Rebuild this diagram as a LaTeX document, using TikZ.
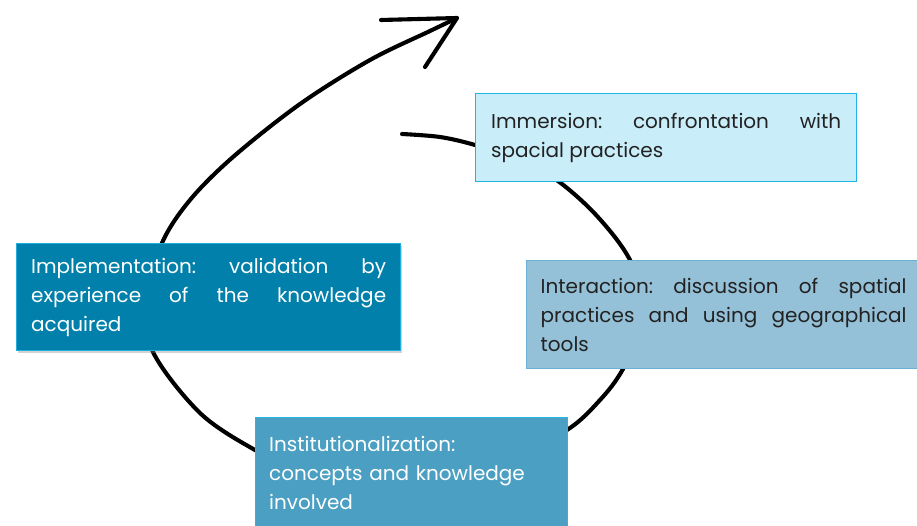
\documentclass[tikz,border=0pt]{standalone}
\usepackage{fontspec}
\setmainfont{Poppins}
\usetikzlibrary{shadows}
\definecolor{immfill}{HTML}{C9EDF9}
\definecolor{immdraw}{HTML}{1DB5E5}
\definecolor{impfill}{HTML}{0080AA}
\definecolor{impdraw}{HTML}{22AEDC}
\definecolor{intfill}{HTML}{94C1D8}
\definecolor{intdraw}{HTML}{6BB2D2}
\definecolor{insfill}{HTML}{4B9FC2}
\definecolor{insdraw}{HTML}{2BB5E5}
\definecolor{darktext}{HTML}{222222}
\begin{document}
\begin{tikzpicture}[x=1pt,y=-1pt,
  box/.style={anchor=north west, line width=1.3pt, inner ysep=0pt,
    font=\fontsize{20}{29}\selectfont\frenchspacing, align=justify},
  spiral/.style={line width=4.1pt, line cap=round, line join=round, black}]
\useasboundingbox (0,0) rectangle (917,525);
\clip (0,0) rectangle (917,525);
% spiral connector (drawn first, boxes cover it)
\coordinate (start) at (402,134);
\coordinate (tip) at (457,18);
\coordinate (barbA) at (381,20);
\coordinate (barbB) at (425,67);
\draw[spiral] plot[smooth, tension=0.55] coordinates {
  (402,134) (440,137) (475,145) (520,160) (558,181) (597,216) (630,260)
  (648,315) (623,369) (600,400) (567,430) (500,465) (400,482) (300,470)
  (255,450) (200,413) (153,352) (146,300) (162,243) (190,200) (233,157)
  (300,104) (370,60) (430,31) (457,18)};
\draw[spiral] (barbA) -- (tip) -- (barbB);
% boxes
\node[box, fill=immfill, draw=immdraw, text=darktext, text width=350pt,
  inner xsep=15.5pt, minimum height=88pt] (imm) at (475,93)
  {Immersion: confrontation with\linebreak spacial practices};
\node[box, fill=impfill, draw=impdraw, text=white, text width=355pt,
  inner xsep=14.5pt, minimum height=107pt,
  drop shadow={opacity=0.35, shadow xshift=1.5pt, shadow yshift=-2.5pt}] (imp) at (16,243)
  {Implementation: validation by\linebreak experience of the knowledge\linebreak acquired};
\node[box, fill=intfill, draw=intdraw, text=darktext, text width=366pt,
  inner xsep=14pt, minimum height=108pt] (int) at (526,260)
  {Interaction: discussion of spatial\linebreak practices and using geographical\linebreak tools};
\node[box, fill=insfill, draw=insdraw, text=white, text width=285pt, align=left,
  inner xsep=13.5pt, minimum height=110pt] (ins) at (255,417)
  {Institutionalization:\\ concepts and knowledge\\ involved};
\end{tikzpicture}
\end{document}
